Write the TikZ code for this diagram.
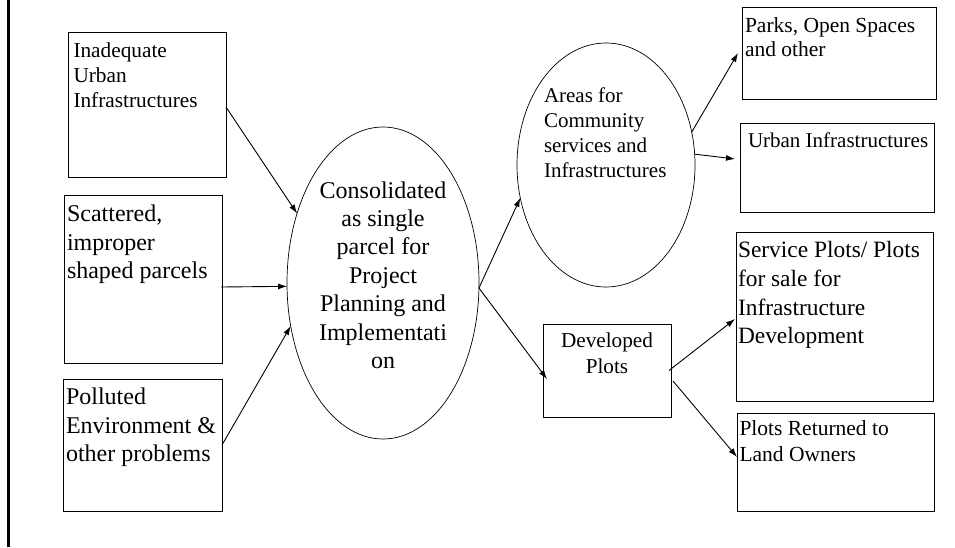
\documentclass[tikz,border=0pt]{standalone}
\usepackage{fontspec}
\setmainfont{Liberation Serif}
\usetikzlibrary{arrows.meta,shapes.geometric}
\begin{document}
\begin{tikzpicture}[x=1pt,y=-1pt,
  box/.style={draw, line width=0.9pt, inner sep=0, outer sep=0},
  oval/.style={draw, ellipse, line width=0.7pt, inner sep=0, outer sep=0},
  txt/.style={inner sep=0, outer sep=0, anchor=north west, align=left},
  ctxt/.style={inner sep=0, outer sep=0, anchor=north, align=center},
  arr/.style={line width=0.9pt, -{Latex[length=9pt,width=6pt]}},
  fa/.style={font=\fontsize{21.3}{25.2}\selectfont},
  fb/.style={font=\fontsize{24}{28.4}\selectfont}]
\useasboundingbox (0,0) rectangle (955,547);
\draw[line width=2.5pt] (8.3,0) -- (8.3,547);

% left boxes
\node[box, minimum width=158, minimum height=145] (b1) at (147,104.5) {};
\node[box, minimum width=158, minimum height=168] (b2) at (143,279) {};
\node[box, minimum width=159, minimum height=132] (b3) at (142.5,445) {};
\node[txt, fa] (t1) at (73.5,42.5) {Inadequate\\Urban\\Infrastructures};
\node[txt, fb] (t2) at (67,205) {Scattered,\\improper\\shaped parcels};
\node[txt, fb] (t3) at (66,388) {Polluted\\Environment \&\\other problems};

% central ellipse
\node[oval, minimum width=192, minimum height=312] (cons) at (383,283) {};
\node[ctxt, fb] (ct) at (383,181.5) {Consolidated\\as single\\parcel for\\Project\\Planning and\\Implementati\\on};

% areas ellipse
\node[oval, minimum width=178, minimum height=244] (areas) at (606,165) {};
\node[txt, fa, font=\fontsize{21}{25}\selectfont] (at) at (544,88) {Areas for\\Community\\services and\\Infrastructures};

% developed plots
\node[box, minimum width=128, minimum height=93] (dev) at (607,370.5) {};
\node[ctxt, fa, font=\fontsize{21.2}{26}\selectfont] (dt) at (607,333) {Developed\\Plots};

% right boxes
\node[box, minimum width=194, minimum height=92] (parks) at (839,53) {};
\node[box, minimum width=194, minimum height=89] (urb) at (837,167.5) {};
\node[box, minimum width=197, minimum height=169] (svc) at (834.5,316.5) {};
\node[box, minimum width=197, minimum height=98] (ret) at (835.5,462) {};
\node[txt, font=\fontsize{21.5}{24}\selectfont] (pt) at (745,18) {Parks, Open Spaces\\and other};
\node[txt, font=\fontsize{21}{25}\selectfont] (ut) at (748,133) {Urban Infrastructures};
\node[txt, font=\fontsize{23.4}{28.7}\selectfont] (st) at (738,241.5) {Service Plots/ Plots\\for sale for\\Infrastructure\\Development};
\node[txt, font=\fontsize{21.5}{26}\selectfont] (rt) at (739.5,421) {Plots Returned to\\Land Owners};

% connectors
\draw[arr] ([yshift=-2.5pt]b1.east) -- (cons.141.7);
\draw[arr] ([yshift=-8pt,xshift=-1pt]b2.east) -- (cons.182.4);
\draw[arr] (b3.east) -- (cons.205);
\draw[arr] (cons.357.6) -- (areas.201);
\draw[arr] (cons.357.6) -- ([yshift=-8.5pt,xshift=4pt]dev.west);
\draw[arr] (areas.21.9) -- ([xshift=-4pt]parks.west);
\draw[arr] (areas.7) -- ([yshift=8.5pt,xshift=-5pt]urb.west);
\draw[arr] ([xshift=-2pt]dev.east) -- ([yshift=-2.5pt,xshift=-1pt]svc.west);
\draw[arr] ([yshift=-10.5pt,xshift=2pt]dev.east) -- ([yshift=5pt]ret.west);
\end{tikzpicture}
\end{document}
